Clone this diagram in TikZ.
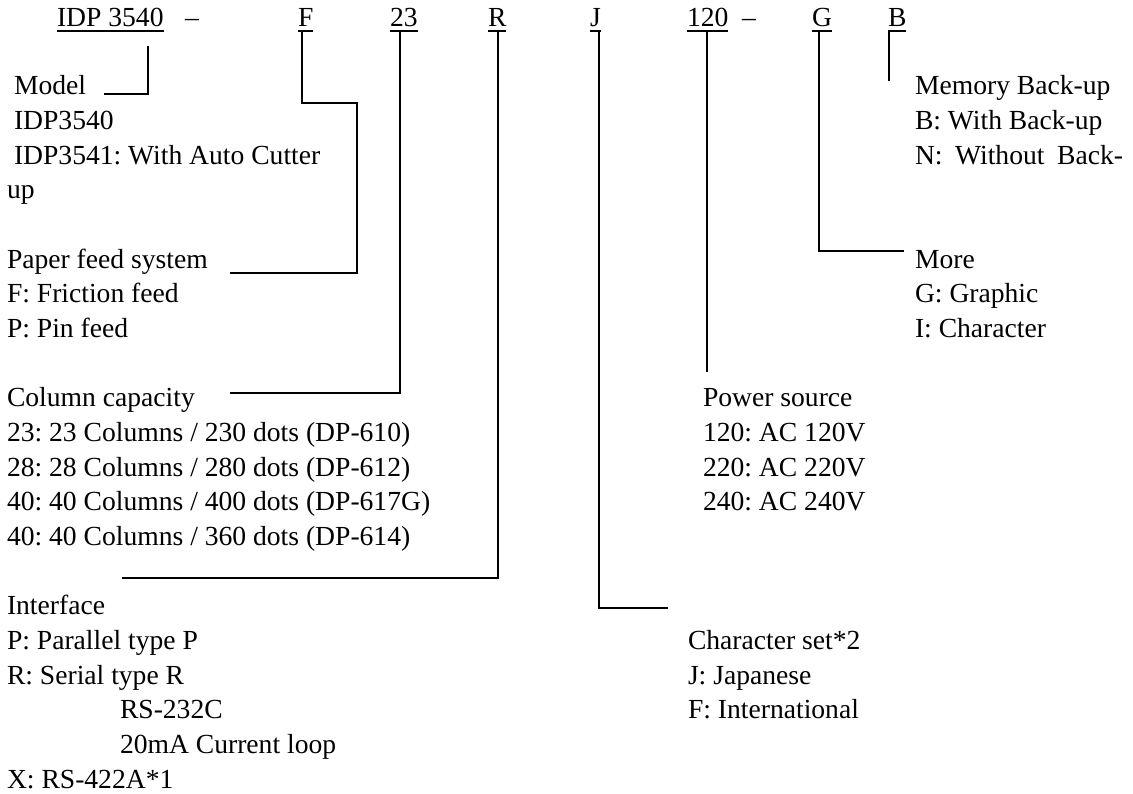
\documentclass[tikz,border=0pt]{standalone}
\usepackage{fontspec}
\setmainfont{Liberation Serif}
\begin{document}
\frenchspacing
\begin{tikzpicture}[x=1pt,y=-1pt,
  txt/.style={anchor=base west,inner sep=0pt,outer sep=0pt,font=\fontsize{27.6}{34.65}\selectfont\frenchspacing},
  wire/.style={line width=1.4pt,line cap=rect},
  uline/.style={line width=1.3pt}]
\useasboundingbox (0,0) rectangle (1133,794);
% top code row
\node[txt] (cIDP) at (57,27) {IDP 3540};
\node[txt] (dash1) at (185,27) {--};
\node[txt] (cF) at (298,27) {F};
\node[txt] (c23) at (390,27) {23};
\node[txt] (cR) at (488,27) {R};
\node[txt] (cJ) at (590,27) {J};
\node[txt] (c120) at (687,27) {120};
\node[txt] (dash2) at (742,27) {--};
\node[txt] (cG) at (812,27) {G};
\node[txt] (cB) at (888,27) {B};
\foreach \n in {cIDP,cF,c23,cR,cJ,c120,cG,cB}
  \draw[uline] ([yshift=-4pt]\n.base west) -- ([yshift=-4pt]\n.base east);
% model block
\node[txt] (model) at (14,95) {Model};
\node[txt] (m1) at (14,129.65) {IDP3540};
\node[txt] (m2) at (14,164.3) {IDP3541: With Auto Cutter};
\node[txt] (m3) at (7,198.95) {up};
% paper feed
\node[txt] (paper) at (7,268.25) {Paper feed system};
\node[txt] (p1) at (7,302.9) {F: Friction feed};
\node[txt] (p2) at (7,337.55) {P: Pin feed};
% column capacity
\node[txt] (col) at (7,406.85) {Column capacity};
\node[txt] (c1) at (7,441.5) {23: 23 Columns / 230 dots (DP-610)};
\node[txt] (c2) at (7,476.15) {28: 28 Columns / 280 dots (DP-612)};
\node[txt] (c3) at (7,510.8) {40: 40 Columns / 400 dots (DP-617G)};
\node[txt] (c4) at (7,545.45) {40: 40 Columns / 360 dots (DP-614)};
% interface
\node[txt] (intf) at (7,614.75) {Interface};
\node[txt] (i1) at (7,649.4) {P: Parallel type P};
\node[txt] (i2) at (7,684.05) {R: Serial type R};
\node[txt] (i3) at (120,718.7) {RS-232C};
\node[txt] (i4) at (120,753.35) {20mA Current loop};
\node[txt] (i5) at (7,788) {X: RS-422A*1};
% memory
\node[txt] (mem) at (915,95) {Memory Back-up};
\node[txt] (b1) at (915,129.65) {B: With Back-up};
\node[txt] (b2) at (915,164.3) {\makebox[208pt][s]{N: Without Back-}};
% more
\node[txt] (more) at (915,268.25) {More};
\node[txt] (g1) at (915,302.9) {G: Graphic};
\node[txt] (g2) at (915,337.55) {I: Character};
% power
\node[txt] (pow) at (703,406.85) {Power source};
\node[txt] (w1) at (703,441.5) {120: AC 120V};
\node[txt] (w2) at (703,476.15) {220: AC 220V};
\node[txt] (w3) at (703,510.8) {240: AC 240V};
% character set
\node[txt] (chs) at (688,649.4) {Character set*2};
\node[txt] (j1) at (688,684.05) {J: Japanese};
\node[txt] (j2) at (688,718.7) {F: International};
% connector start and end coordinates
\coordinate (sModel) at (148,47);
\coordinate (sF) at (302,32);
\coordinate (s23) at (400,32);
\coordinate (sR) at (498,32);
\coordinate (sJ) at (599,32);
\coordinate (s120) at (707,32);
\coordinate (sG) at (819,32);
\coordinate (sB) at (889,33);
\coordinate (eModel) at (105,94);
\coordinate (ePaper) at (231,273);
\coordinate (eCol) at (231,393);
\coordinate (eIntf) at (123,578);
\coordinate (eChs) at (667,608);
\coordinate (ePow) at (707,371);
\coordinate (eMore) at (903,251);
\coordinate (eMem) at (889,80);
% connectors
\draw[wire] (sModel) |- (eModel);
\draw[wire] (sF) -- (302,103) -- (357,103) |- (ePaper);
\draw[wire] (s23) |- (eCol);
\draw[wire] (sR) |- (eIntf);
\draw[wire] (sJ) |- (eChs);
\draw[wire] (s120) -- (ePow);
\draw[wire] (sG) |- (eMore);
\draw[wire] (sB) -- (eMem);
\end{tikzpicture}
\end{document}
